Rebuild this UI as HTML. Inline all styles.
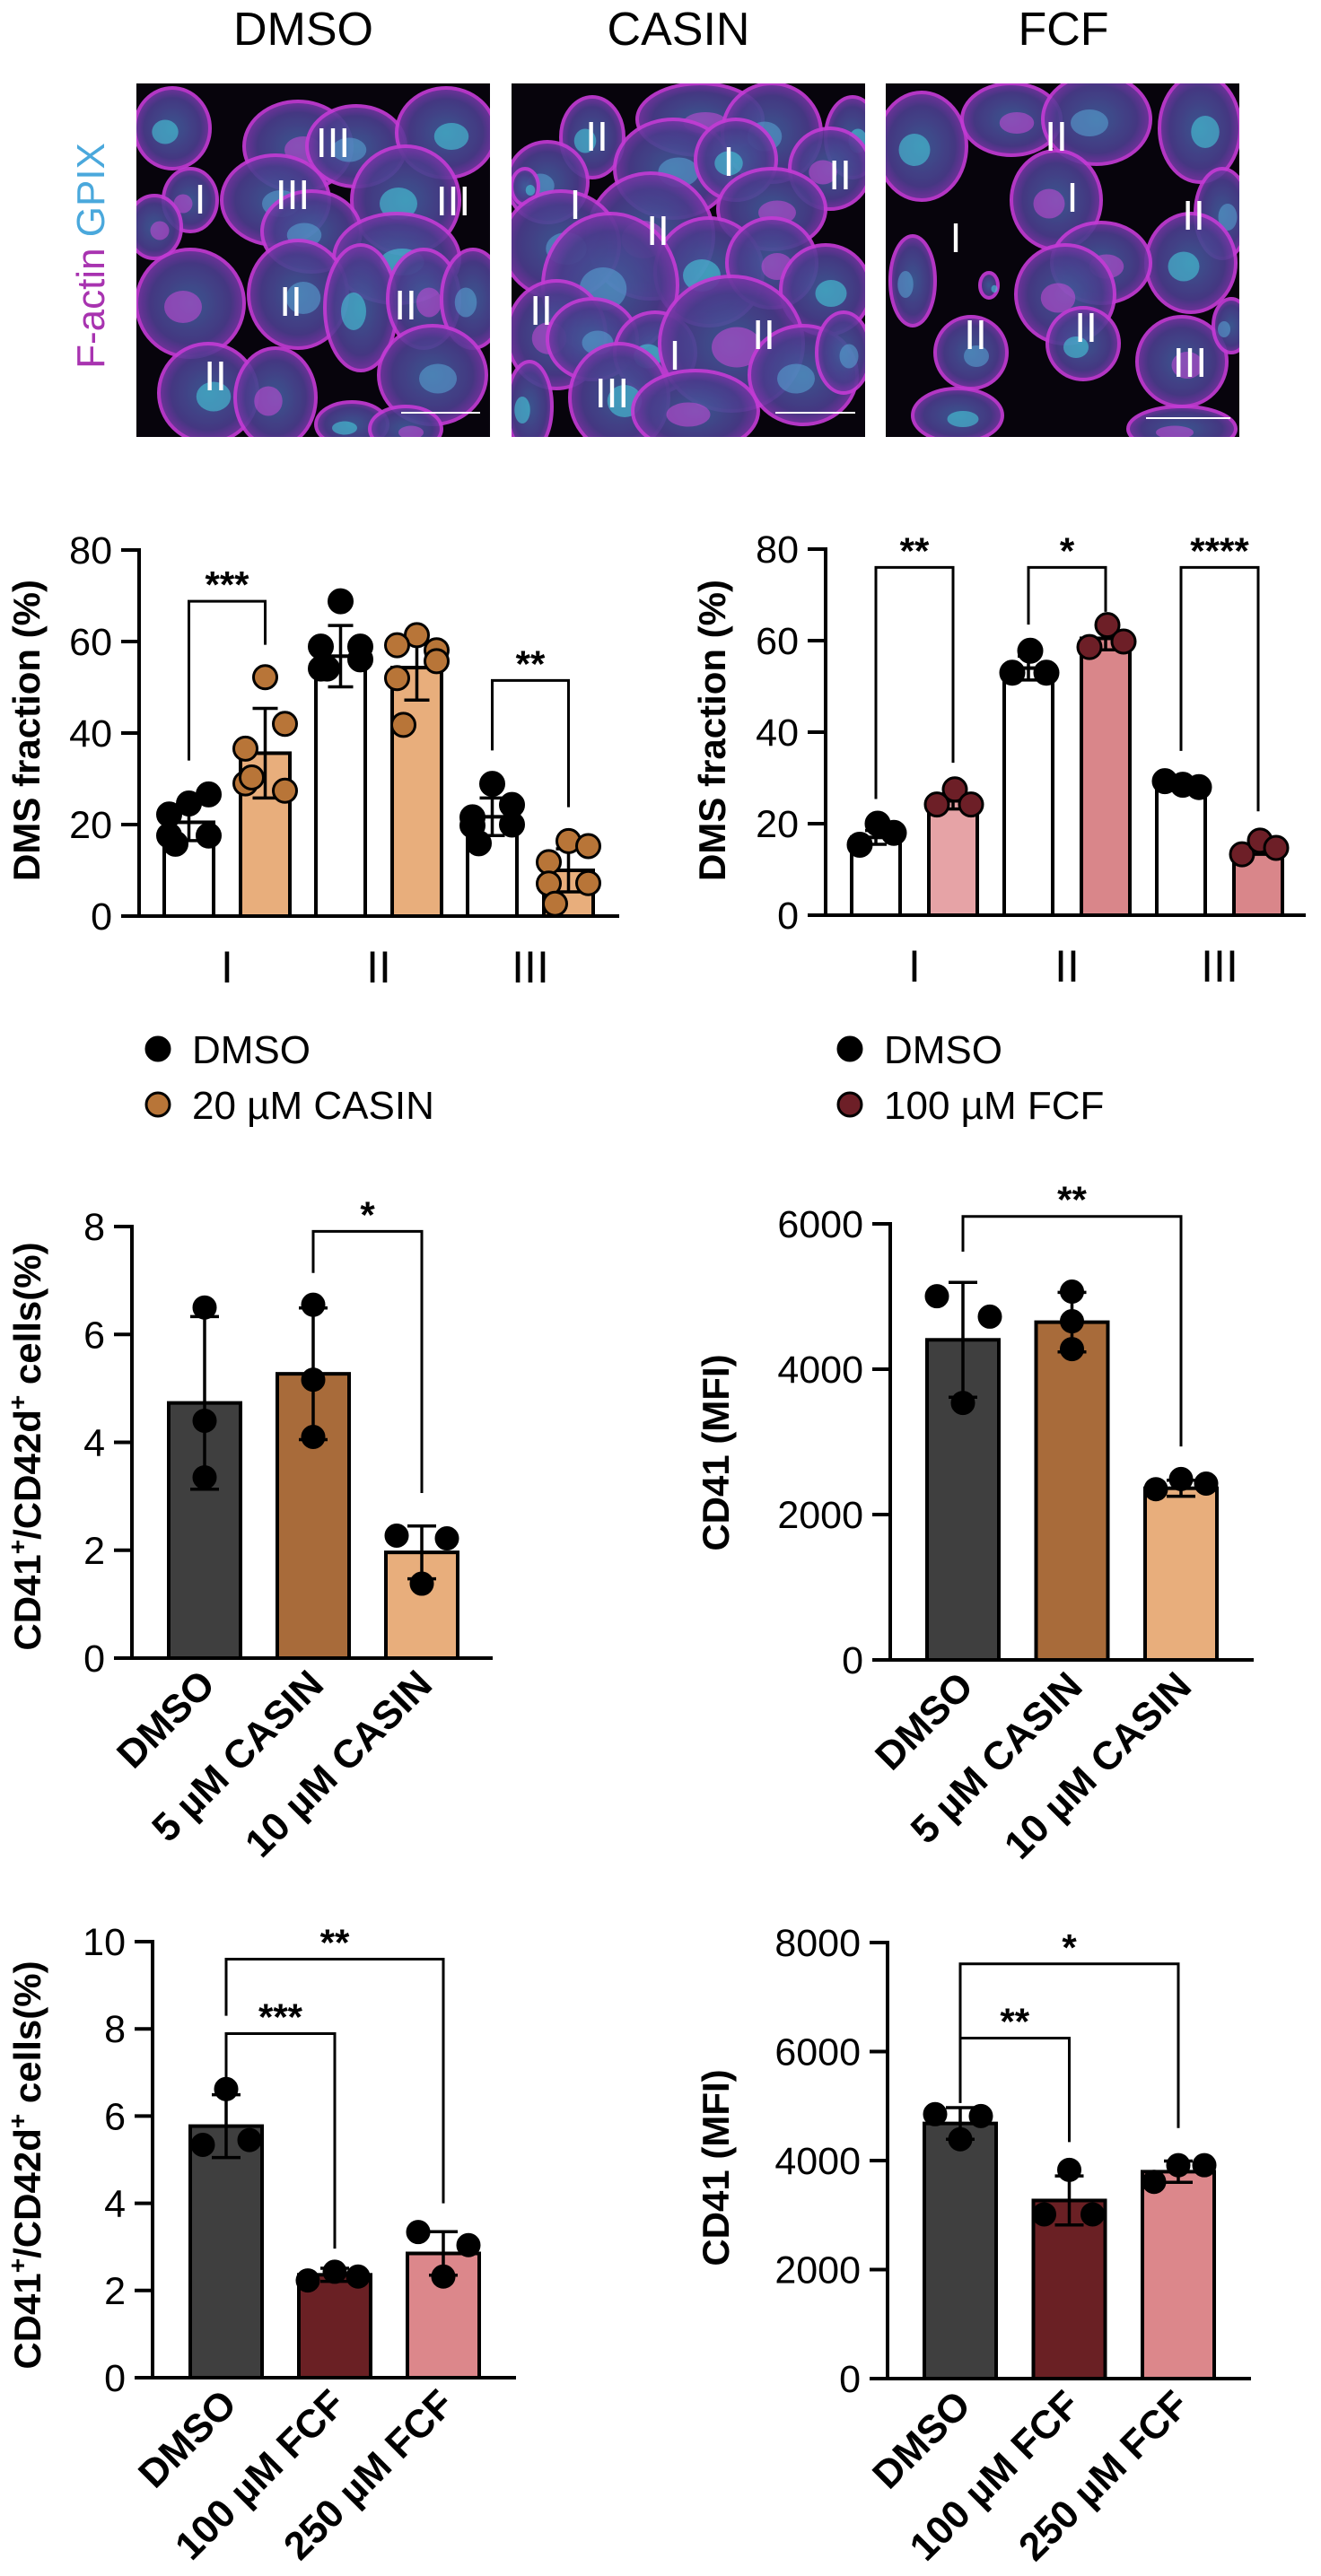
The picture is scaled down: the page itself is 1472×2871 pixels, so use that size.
<!DOCTYPE html>
<html><head><meta charset="utf-8"><style>
html,body{margin:0;padding:0;background:#fff;}
svg{display:block;font-family:"Liberation Sans",Arial,sans-serif;}
</style></head><body>
<svg id="fig" width="1472" height="2871" viewBox="0 0 1472 2871" xmlns="http://www.w3.org/2000/svg">
<defs>
<clipPath id="c1"><rect x="152" y="93" width="394" height="394"/></clipPath>
<clipPath id="c2"><rect x="570" y="93" width="394" height="394"/></clipPath>
<clipPath id="c3"><rect x="987" y="93" width="394" height="394"/></clipPath>
<radialGradient id="cellg"><stop offset="0" stop-color="#3f5d9a"/><stop offset="0.75" stop-color="#4a3c8c"/><stop offset="1" stop-color="#7a35a8"/></radialGradient>
</defs>
<text x="338" y="50" font-size="52" text-anchor="middle">DMSO</text>
<text x="756" y="50" font-size="52" text-anchor="middle">CASIN</text>
<text x="1185" y="50" font-size="52" text-anchor="middle">FCF</text>
<text transform="translate(116,285) rotate(-90)" font-size="44" text-anchor="middle"><tspan fill="#a833b0">F-actin </tspan><tspan fill="#4aa8dc">GPIX</tspan></text>
<g id="images"></g>
<g id="charts"></g>
</svg>
<script>
// ---------- Chart data ----------
const dmsCategories = ['I', 'II', 'III'];
const dmsCasinDmsoMeans = [20.5, 56.8, 21.7];
const dmsCasinDmsoSD = [4.0, 6.7, 4.1];
const dmsCasinTreatMeans = [35.6, 54.3, 10.0];
const dmsCasinTreatSD = [9.8, 7.1, 4.7];
const dmsCasinDmsoPts = [[24.6, 26.6, 22.2, 17.6, 17.6, 15.8], [68.8, 58.9, 58.9, 56.1, 54.1, 54.1], [28.9, 24.3, 21.6, 20.0, 19.8, 15.9]];
const dmsCasinTreatPts = [[52.2, 42.0, 36.6, 27.4, 29.0, 30.3], [61.4, 58.1, 59.2, 55.7, 52.0, 41.8], [16.4, 15.3, 11.8, 7.2, 7.1, 2.7]];
const dmsCasinTicks = [0, 20, 40, 60, 80];
const dmsFcfDmsoMeans = [17.0, 54.0, 28.0];
const dmsFcfDmsoSD = [1.5, 2.6, 0.8];
const dmsFcfTreatMeans = [25.0, 60.5, 14.8];
const dmsFcfTreatSD = [1.8, 2.5, 1.5];
const dmsFcfDmsoPts = [[15.4, 20.0, 18.0], [53.0, 57.8, 53.0], [29.3, 28.5, 28.0]];
const dmsFcfTreatPts = [[24.2, 27.5, 24.2], [58.6, 63.4, 59.8], [13.3, 16.3, 14.7]];
const dmsFcfTicks = [0, 20, 40, 60, 80];
const casinCategories = ['DMSO', '5 µM CASIN', '10 µM CASIN'];
const casinPctMeans = [4.73, 5.27, 1.96];
const casinPctSD = [1.6, 1.22, 0.49];
const casinPctPts = [[6.5, 4.4, 3.35], [6.55, 5.16, 4.1], [2.27, 2.22, 1.38]];
const casinPctTicks = [0, 2, 4, 6, 8];
const casinMfiMeans = [4404, 4647, 2362];
const casinMfiSD = [790, 410, 110];
const casinMfiPts = [[5004, 4723, 3536], [5068, 4660, 4277], [2349, 2489, 2426]];
const casinMfiTicks = [0, 2000, 4000, 6000];
const fcfCategories = ['DMSO', '100 µM FCF', '250 µM FCF'];
const fcfPctMeans = [5.77, 2.36, 2.85];
const fcfPctSD = [0.72, 0.15, 0.5];
const fcfPctPts = [[6.62, 5.34, 5.45], [2.23, 2.43, 2.32], [3.34, 3.04, 2.32]];
const fcfPctTicks = [0, 2, 4, 6, 8, 10];
const fcfMfiMeans = [4681, 3268, 3796];
const fcfMfiSD = [290, 450, 195];
const fcfMfiPts = [[4851, 4817, 4391], [3830, 3013, 3013], [3609, 3915, 3915]];
const fcfMfiTicks = [0, 2000, 4000, 6000, 8000];

const NS = 'http://www.w3.org/2000/svg';
function mk(tag, parent) { const e = document.createElementNS(NS, tag); parent.appendChild(e); return e; }
function set(e, o) { for (const k in o) e.setAttribute(k, o[k]); return e; }

// ---------- Microscopy panels (decorative) ----------
const imgRoot = document.getElementById('images');
const panels = [
  {x: 152, clip: 'c1', cells: [[40,50,42,45],[180,70,60,50],[245,70,55,45],[345,55,55,50],[60,130,30,35],[155,130,60,50],[300,130,60,60],[20,160,30,35],[195,165,55,45],[290,195,70,50],[60,245,60,60],[180,235,55,60],[250,250,40,70],[320,240,40,55],[375,240,35,55],[80,345,55,55],[155,350,45,55],[330,325,60,55],[240,380,40,25],[300,385,40,25]],
   nums: [['III',219,66],['I',71,129],['III',174,124],['III',353,131],['II',172,243],['II',300,247],['II',88,326]], bar: [295, 383, 367]},
  {x: 570, clip: 'c2', cells: [[90,60,35,45],[210,40,70,40],[290,55,55,55],[380,60,30,45],[355,95,45,45],[180,95,65,55],[250,85,45,45],[290,140,60,45],[40,110,45,45],[15,115,15,20],[155,170,70,70],[55,180,65,60],[220,210,60,60],[290,200,50,50],[110,225,75,80],[350,230,50,50],[50,280,55,60],[90,285,50,45],[160,300,45,45],[245,290,80,75],[325,325,60,55],[120,350,55,60],[205,365,70,45],[370,300,30,45],[20,360,25,50]],
   nums: [['II',95,59],['I',242,87],['II',366,102],['I',71,135],['II',163,164],['II',33,253],['II',281,280],['I',182,303],['III',112,345]], bar: [294, 383, 367]},
  {x: 987, clip: 'c3', cells: [[40,70,50,60],[140,40,55,40],[235,40,60,50],[350,50,45,60],[190,130,50,55],[375,145,30,50],[340,200,50,55],[240,200,55,45],[30,220,25,50],[115,225,10,14],[200,235,55,55],[95,300,40,40],[220,290,40,40],[330,310,50,50],[385,270,20,30],[80,370,50,30],[330,385,60,25]],
   nums: [['II',190,59],['I',208,127],['II',343,147],['I',78,172],['II',100,280],['II',223,272],['III',339,311]], bar: [290, 384, 373]}
];
panels.forEach((p, pi) => {
  const g = mk('g', imgRoot);
  
  
  set(g, {'clip-path': 'url(#' + p.clip + ')'});
  set(mk('rect', g), {x: p.x, y: 93, width: 394, height: 394, fill: '#07040c'});
  p.cells.forEach((c, i) => {
    const e = mk('ellipse', g);
    
    
    set(e, {cx: p.x + c[0], cy: 93 + c[1], rx: c[2], ry: c[3], fill: 'url(#cellg)', stroke: '#c23bd4', 'stroke-width': 4, opacity: 0.92});
    const n = mk('ellipse', g);
    
    
    const cy = (i % 3 === 0) ? '#47d3e0' : ((i % 3 === 1) ? '#c94ad8' : '#5aa6d6');
    set(n, {cx: p.x + c[0] + (i % 2 ? 6 : -8), cy: 93 + c[1] + 4, rx: c[2] * 0.35, ry: c[3] * 0.3, fill: cy, opacity: 0.55});
  });
  p.nums.forEach(nm => {
    const t = mk('text', g);
    
    
    set(t, {x: p.x + nm[1], y: 93 + nm[2] + 16, 'font-size': 46, fill: '#fff', 'text-anchor': 'middle'});
    t.textContent = nm[0];
  });
  const sb = mk('line', g);
  
  
  set(sb, {x1: p.x + p.bar[0], x2: p.x + p.bar[1], y1: 93 + p.bar[2], y2: 93 + p.bar[2], stroke: '#fff', 'stroke-width': 2});
});

// ---------- Charts ----------
const root = document.getElementById('charts');
function drawChart(cfg) {
  const g = mk('g', root);
  
  
  const yScale = v => cfg.y0 - (v / cfg.ymax) * (cfg.y0 - cfg.yTop);
  const ticks = cfg.ticks;
  const ax = mk('line', g);
  
  
  set(ax, {x1: cfg.x0, x2: cfg.x0, y1: yScale(ticks[ticks.length - 1]) - 2, y2: cfg.y0 + 2, stroke: '#000', 'stroke-width': 4});
  const xa = mk('line', g);
  
  
  set(xa, {x1: cfg.x0 - 20, x2: cfg.xEnd, y1: cfg.y0, y2: cfg.y0, stroke: '#000', 'stroke-width': 4});
  ticks.forEach(t => {
    const tl = mk('line', g);
    
    
    set(tl, {x1: cfg.x0 - 20, x2: cfg.x0, y1: yScale(t), y2: yScale(t), stroke: '#000', 'stroke-width': 4});
    const tx = mk('text', g);
    
    
    set(tx, {x: cfg.x0 - 30, y: yScale(t) + 15, 'font-size': 43, 'text-anchor': 'end'});
    tx.textContent = String(t);
  });
  const yt = mk('text', g);
  
  
  set(yt, {transform: 'translate(' + cfg.titleX + ',' + cfg.titleY + ') rotate(-90)', 'font-size': cfg.titleSize, 'font-weight': 'bold', 'text-anchor': 'middle'});
  yt.innerHTML = cfg.title;
  const centers = [];
  cfg.series.forEach((s, si) => {
    s.means.forEach((m, ci) => {
      const cx = cfg.firstCenter + ci * cfg.groupStep + si * cfg.innerStep;
      centers[ci * cfg.series.length + si] = cx;
      const b = mk('rect', g);
      
      
      set(b, {x: cx - cfg.barW / 2, y: yScale(m), width: cfg.barW, height: cfg.y0 - yScale(m), fill: s.colors[ci], stroke: '#000', 'stroke-width': 4});
    });
  });
  cfg.series.forEach((s, si) => {
    s.means.forEach((m, ci) => {
      const cx = cfg.firstCenter + ci * cfg.groupStep + si * cfg.innerStep;
      const sd = s.sd[ci];
      const eb = mk('path', g);
      
      
      const yh = yScale(m + sd), yl = yScale(m - sd), cw = cfg.capW;
      set(eb, {d: 'M' + cx + ' ' + yl + 'V' + yh + 'M' + (cx - cw) + ' ' + yh + 'H' + (cx + cw) + 'M' + (cx - cw) + ' ' + yl + 'H' + (cx + cw), stroke: '#000', 'stroke-width': 3.5, fill: 'none'});
      const pts = s.pts[ci];
      const offs3 = cfg.dotOffsets ? cfg.dotOffsets[ci] : [-18, 2, 20];
      const offs6 = [0, 22, -22, 22, -22, -15];
      pts.forEach((v, pi) => {
        const d = mk('circle', g);
        
        
        const ox = pts.length === 6 ? offs6[pi] : offs3[pi % 3];
        set(d, {cx: cx + ox, cy: yScale(v), r: cfg.dotR, fill: s.dot, stroke: '#000', 'stroke-width': 3});
      });
    });
  });
  cfg.cats.forEach((c, ci) => {
    const t = mk('text', g);
    
    
    if (cfg.rotate) {
      const cx = centers[ci] + 14, cy = cfg.y0 + 32;
      set(t, {x: cx, y: cy, transform: 'rotate(-45 ' + cx + ' ' + cy + ')', 'font-size': 44, 'font-weight': 'bold', 'text-anchor': 'end'});
    } else {
      const cx = (centers[ci * 2] + centers[ci * 2 + 1]) / 2;
      set(t, {x: cx, y: cfg.y0 + 74, 'font-size': 50, 'text-anchor': 'middle'});
    }
    t.textContent = c;
  });
  cfg.brackets.forEach(br => {
    const xa = centers[br.a], xb = centers[br.b];
    const p = mk('path', g);
    
    
    set(p, {d: 'M' + xa + ' ' + yScale(br.la) + 'V' + yScale(br.top) + 'H' + xb + 'V' + yScale(br.lb), stroke: '#000', 'stroke-width': 3, fill: 'none'});
    const t = mk('text', g);
    
    
    set(t, {x: (xa + xb) / 2, y: yScale(br.top) - 4, 'font-size': 42, 'font-weight': 'bold', 'text-anchor': 'middle'});
    t.textContent = br.label;
  });
}

const casinDot = '#b87538', fcfDot = '#6d1f27';
drawChart({name: 'chart-dms-casin', x0: 155, y0: 1021, yTop: 613, ymax: 80, ticks: dmsCasinTicks, xEnd: 690,
  firstCenter: 210.5, groupStep: 169, innerStep: 85, barW: 55, capW: 14, dotR: 13, cats: dmsCategories,
  title: 'DMS fraction (%)', titleX: 44, titleY: 814, titleSize: 42,
  series: [{key: 'dmso', means: dmsCasinDmsoMeans, sd: dmsCasinDmsoSD, pts: dmsCasinDmsoPts, colors: ['#fff', '#fff', '#fff'], dot: '#000'},
           {key: 'casin', means: dmsCasinTreatMeans, sd: dmsCasinTreatSD, pts: dmsCasinTreatPts, colors: ['#e8ae7c', '#e8ae7c', '#e8ae7c'], dot: casinDot}],
  brackets: [{a: 0, b: 1, top: 68.8, la: 34, lb: 59.3, label: '***'}, {a: 4, b: 5, top: 51.5, la: 36.2, lb: 23.8, label: '**'}]});
drawChart({name: 'chart-dms-fcf', x0: 920, y0: 1020, yTop: 612, ymax: 80, ticks: dmsFcfTicks, xEnd: 1455,
  firstCenter: 976, groupStep: 170, innerStep: 86, barW: 54, capW: 12, dotR: 13, cats: dmsCategories,
  title: 'DMS fraction (%)', titleX: 808, titleY: 814, titleSize: 42,
  series: [{key: 'dmso', means: dmsFcfDmsoMeans, sd: dmsFcfDmsoSD, pts: dmsFcfDmsoPts, colors: ['#fff', '#fff', '#fff'], dot: '#000'},
           {key: 'fcf', means: dmsFcfTreatMeans, sd: dmsFcfTreatSD, pts: dmsFcfTreatPts, colors: ['#e6a3a6', '#d9868a', '#d9868a'], dot: fcfDot}],
  brackets: [{a: 0, b: 1, top: 76, la: 25.4, lb: 33.3, label: '**'}, {a: 2, b: 3, top: 76, la: 63.5, lb: 66.3, label: '*'}, {a: 4, b: 5, top: 76, la: 35.9, lb: 22.7, label: '****'}]});
drawChart({name: 'chart-cd41-cd42d-casin', x0: 147, y0: 1848, yTop: 1367, ymax: 8, ticks: casinPctTicks, xEnd: 549,
  firstCenter: 228, groupStep: 121, innerStep: 0, barW: 80, capW: 16, dotR: 12, cats: casinCategories, rotate: true,
  dotOffsets: [[0, 0, 0], [0, 0, 0], [-28, 28, 0]],
  title: 'CD41<tspan font-size="28" dy="-16">+</tspan><tspan dy="16">/CD42d</tspan><tspan font-size="28" dy="-16">+</tspan><tspan dy="16"> cells(%)</tspan>', titleX: 45, titleY: 1612, titleSize: 42,
  series: [{key: 'casin', means: casinPctMeans, sd: casinPctSD, pts: casinPctPts, colors: ['#3f3f3f', '#a86b3a', '#e8ae7c'], dot: '#000'}],
  brackets: [{a: 1, b: 2, top: 7.91, la: 7.14, lb: 3.06, label: '*'}]});
drawChart({name: 'chart-cd41-mfi-casin', x0: 992, y0: 1850, yTop: 1364, ymax: 6000, ticks: casinMfiTicks, xEnd: 1397,
  firstCenter: 1073, groupStep: 121.5, innerStep: 0, barW: 80, capW: 16, dotR: 12, cats: casinCategories, rotate: true,
  dotOffsets: [[-29, 30, 0], [0, 0, 0], [-28, 0, 28]],
  title: 'CD41 (MFI)', titleX: 812, titleY: 1619, titleSize: 42,
  series: [{key: 'casin', means: casinMfiMeans, sd: casinMfiSD, pts: casinMfiPts, colors: ['#3f3f3f', '#a86b3a', '#e8ae7c'], dot: '#000'}],
  brackets: [{a: 0, b: 2, top: 6102, la: 5617, lb: 2936, label: '**'}]});
drawChart({name: 'chart-cd41-cd42d-fcf', x0: 170, y0: 2650, yTop: 2164, ymax: 10, ticks: fcfPctTicks, xEnd: 575,
  firstCenter: 252, groupStep: 121, innerStep: 0, barW: 80, capW: 16, dotR: 12, cats: fcfCategories, rotate: true,
  dotOffsets: [[0, -26, 26], [-30, 0, 26], [-28, 28, 0]],
  title: 'CD41<tspan font-size="28" dy="-16">+</tspan><tspan dy="16">/CD42d</tspan><tspan font-size="28" dy="-16">+</tspan><tspan dy="16"> cells(%)</tspan>', titleX: 45, titleY: 2413, titleSize: 42,
  series: [{key: 'fcf', means: fcfPctMeans, sd: fcfPctSD, pts: fcfPctPts, colors: ['#3f3f3f', '#6a2024', '#dc878b'], dot: '#000'}],
  brackets: [{a: 0, b: 2, top: 9.6, la: 8.3, lb: 4.0, label: '**'}, {a: 0, b: 1, top: 7.89, la: 6.2, lb: 2.96, label: '***'}]});
drawChart({name: 'chart-cd41-mfi-fcf', x0: 989, y0: 2651, yTop: 2165, ymax: 8000, ticks: fcfMfiTicks, xEnd: 1394,
  firstCenter: 1070, groupStep: 121.5, innerStep: 0, barW: 80, capW: 16, dotR: 12, cats: fcfCategories, rotate: true,
  dotOffsets: [[-28, 23, 0], [0, -28, 26], [-27, 0, 29]],
  title: 'CD41 (MFI)', titleX: 812, titleY: 2416, titleSize: 42,
  series: [{key: 'fcf', means: fcfMfiMeans, sd: fcfMfiSD, pts: fcfMfiPts, colors: ['#3f3f3f', '#6a2024', '#dc878b'], dot: '#000'}],
  brackets: [{a: 0, b: 2, top: 7609, la: 5566, lb: 4596, label: '*'}, {a: 0, b: 1, top: 6247, la: 5055, lb: 4340, label: '**'}]});

function legend(x, y, items) {
  const g = mk('g', root);
  
  
  items.forEach((it, i) => {
    const c = mk('circle', g);
    
    
    set(c, {cx: x, cy: y + i * 62, r: 13, fill: it[1], stroke: '#000', 'stroke-width': 3});
    const t = mk('text', g);
    
    
    set(t, {x: x + 38, y: y + i * 62 + 16, 'font-size': 44});
    t.textContent = it[0];
  });
}
legend(176, 1169, [['DMSO', '#000'], ['20 µM CASIN', casinDot]]);
legend(947, 1169, [['DMSO', '#000'], ['100 µM FCF', fcfDot]]);
</script>
</body></html>
